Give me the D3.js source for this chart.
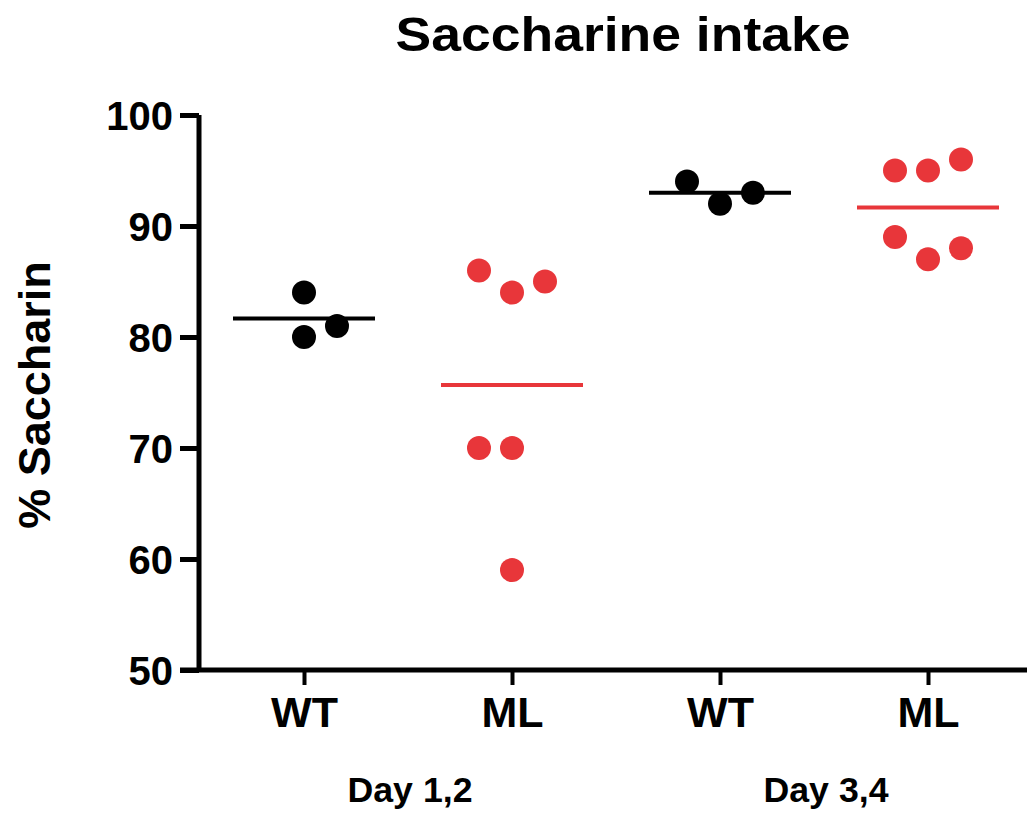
<!DOCTYPE html>
<html>
<head>
<meta charset="utf-8">
<script src="https://cdn.jsdelivr.net/npm/d3@7"></script>
<style>
  body { margin: 0; background: #fff; }
  text { font-family: "Liberation Sans", Arial, sans-serif; font-weight: bold; }
</style>
</head>
<body>
<script>
// groups along the x axis
var groups = ["WT 1", "ML 1", "WT 3", "ML 3"];
var groupLabels = ["WT", "ML", "WT", "ML"];
var dayLabels = ["Day 1,2", "Day 3,4"];
var yTicks = [50, 60, 70, 80, 90, 100];

// % saccharin per animal
var wtDay12 = [84, 80, 81];
var mlDay12 = [86, 84, 85, 70, 70, 59];
var wtDay34 = [94, 92, 93];
var mlDay34 = [95, 95, 96, 89, 87, 88];
var allValues = [wtDay12, mlDay12, wtDay34, mlDay34];

// column of each dot inside its group (-1 left, 0 middle, 1 right)
var slots = [[0, 0, 1], [-1, 0, 1, -1, 0, 0], [-1, 0, 1], [-1, 0, 1, -1, 0, 1]];

var colors = ["#000000", "#e8363a", "#000000", "#e8363a"];

var svg = d3.select("body").append("svg")
            .attr("width", 1027)
            .attr("height", 813);

var x = d3.scalePoint().domain(groups).range([200, 1032]).padding(0.5);
var y = d3.scaleLinear().domain([50, 100]).range([670, 115]);
var jitter = d3.scaleLinear().domain([-1, 1]).range([-33, 33]);

//title
svg.append("text").attr("x", 623).attr("y", 51)
   .attr("text-anchor", "middle").attr("font-size", "48px")
   .attr("textLength", 455).attr("lengthAdjust", "spacingAndGlyphs")
   .text("Saccharine intake");

//y axis
var yAxis = svg.append("g").attr("transform", "translate(199,0)")
   .call(d3.axisLeft(y).tickValues(yTicks).tickSize(19).tickPadding(7));
yAxis.select(".domain").attr("stroke-width", 5).attr("d", "M0," + y(100) + "V" + y(50));
yAxis.selectAll(".tick line").attr("stroke-width", 5);
yAxis.selectAll(".tick text").attr("font-size", "40px").attr("fill", "#000")
     .attr("font-family", "Liberation Sans").attr("font-weight", "bold").attr("dy", "0.36em");

//x axis
var xAxis = svg.append("g").attr("transform", "translate(0,670)")
   .call(d3.axisBottom(x).tickSize(15).tickPadding(11).tickFormat(function(d, i) { return groupLabels[i]; }));
xAxis.select(".domain").attr("stroke-width", 5).attr("d", "M180,0H1027");
xAxis.selectAll(".tick line").attr("stroke-width", 4);
xAxis.selectAll(".tick text").attr("font-size", "43px").attr("fill", "#000")
     .attr("font-family", "Liberation Sans").attr("font-weight", "bold");

//day labels under each pair of groups
dayLabels.forEach(function(lbl, i) {
    var cx = (x(groups[i * 2]) + x(groups[i * 2 + 1])) / 2 + 2;
    svg.append("text").attr("x", cx).attr("y", 802)
       .attr("text-anchor", "middle").attr("font-size", "35px")
       .attr("font-family", "Lato, 'Liberation Sans'")
       .attr("textLength", 125).attr("lengthAdjust", "spacingAndGlyphs")
       .text(lbl);
});

//y label
svg.append("text").attr("transform", "translate(50,395) rotate(-90)")
   .attr("text-anchor", "middle").attr("font-size", "45px")
   .text("% Saccharin");

//means
allValues.forEach(function(vals, g) {
    var m = d3.mean(vals);
    svg.append("line")
       .attr("x1", x(groups[g]) - 71).attr("x2", x(groups[g]) + 71)
       .attr("y1", y(m)).attr("y2", y(m))
       .attr("stroke", colors[g]).attr("stroke-width", 4);
});

//dots
allValues.forEach(function(vals, g) {
    svg.append("g").selectAll("circle").data(vals).enter().append("circle")
       .attr("cx", function(d, i) { return x(groups[g]) + jitter(slots[g][i]); })
       .attr("cy", function(d) { return y(d); })
       .attr("r", 12)
       .attr("fill", colors[g]);
});
</script>
</body>
</html>
